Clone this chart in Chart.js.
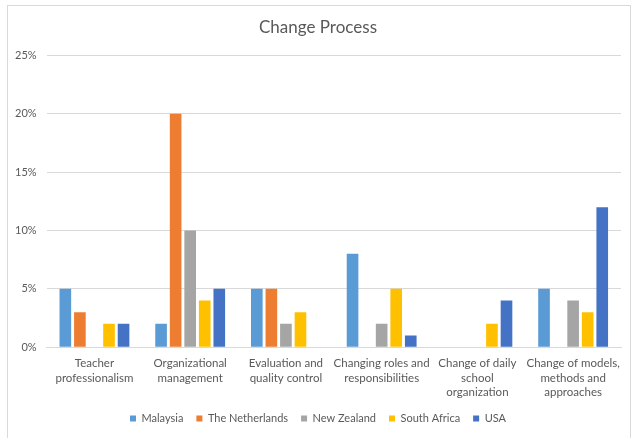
<!DOCTYPE html>
<html>
<head>
<meta charset="utf-8">
<script src="https://cdn.jsdelivr.net/npm/chart.js@4"></script>
<style>
html,body{margin:0;padding:0;background:#fff;}
#wrap{width:635px;height:438px;position:relative;}
</style>
</head>
<body>
<div id="wrap"><canvas id="c" width="635" height="438"></canvas></div>
<script>
const categories = [
  ["Teacher", "professionalism"],
  ["Organizational", "management"],
  ["Evaluation and", "quality control"],
  ["Changing roles and", "responsibilities"],
  ["Change of daily", "school", "organization"],
  ["Change of models,", "methods and", "approaches"]
];
const malaysia = [5, 2, 5, 8, 0, 5];
const netherlands = [3, 20, 5, 0, 0, 0];
const newZealand = [0, 10, 2, 2, 0, 4];
const southAfrica = [2, 4, 3, 5, 2, 3];
const usa = [2, 5, 0, 1, 4, 12];
const yTicks = [0, 5, 10, 15, 20, 25];

const FONT = "Lato, 'Open Sans', sans-serif";
const TXT = "#595959";

const borderPlugin = {
  id: 'border',
  beforeDraw(chart) {
    const ctx = chart.ctx;
    ctx.save();
    ctx.fillStyle = '#fff';
    ctx.fillRect(0, 0, chart.width, chart.height);
    ctx.strokeStyle = '#d9d9d9';
    ctx.lineWidth = 1;
    ctx.strokeRect(7.5, 5.5, 623, 440);
    ctx.restore();
  }
};

function ds(label, data, color) {
  return { label, data, backgroundColor: color, borderWidth: 0,
    barPercentage: 0.8, categoryPercentage: 0.76 };
}

new Chart(document.getElementById('c'), {
  type: 'bar',
  data: {
    labels: categories,
    datasets: [
      ds('Malaysia', malaysia, '#5B9BD5'),
      ds('The Netherlands', netherlands, '#ED7D31'),
      ds('New Zealand', newZealand, '#A5A5A5'),
      ds('South Africa', southAfrica, '#FFC000'),
      ds('USA', usa, '#4472C4')
    ]
  },
  options: {
    responsive: false,
    animation: false,
    layout: { padding: { left: 15, right: 14, top: 9, bottom: 4 } },
    plugins: {
      title: {
        display: true, text: 'Change Process', color: TXT,
        font: { family: FONT, size: 17, weight: 'normal' },
        padding: { top: 8, bottom: 18 }
      },
      legend: {
        position: 'bottom',
        labels: {
          color: TXT, boxWidth: 6, boxHeight: 6, padding: 13,
          font: { family: FONT, size: 11 }
        }
      },
      tooltip: { enabled: false }
    },
    scales: {
      x: {
        afterFit(axis) { axis.height -= 9; },
        grid: { display: false, drawTicks: false },
        border: { display: true, color: '#d9d9d9' },
        ticks: { color: TXT, font: { family: FONT, size: 11.5, lineHeight: 1.27 }, maxRotation: 0, autoSkip: false, padding: 9 }
      },
      y: {
        min: 0, max: 25,
        afterFit(axis) { axis.width -= 10; },
        afterBuildTicks(axis) { axis.ticks = yTicks.map(v => ({ value: v })); },
        grid: { color: '#d9d9d9', drawTicks: false },
        border: { display: false },
        ticks: { color: TXT, font: { family: FONT, size: 11 }, padding: 10,
          callback: v => v + '%' }
      }
    }
  },
  plugins: [borderPlugin]
});
</script>
</body>
</html>
